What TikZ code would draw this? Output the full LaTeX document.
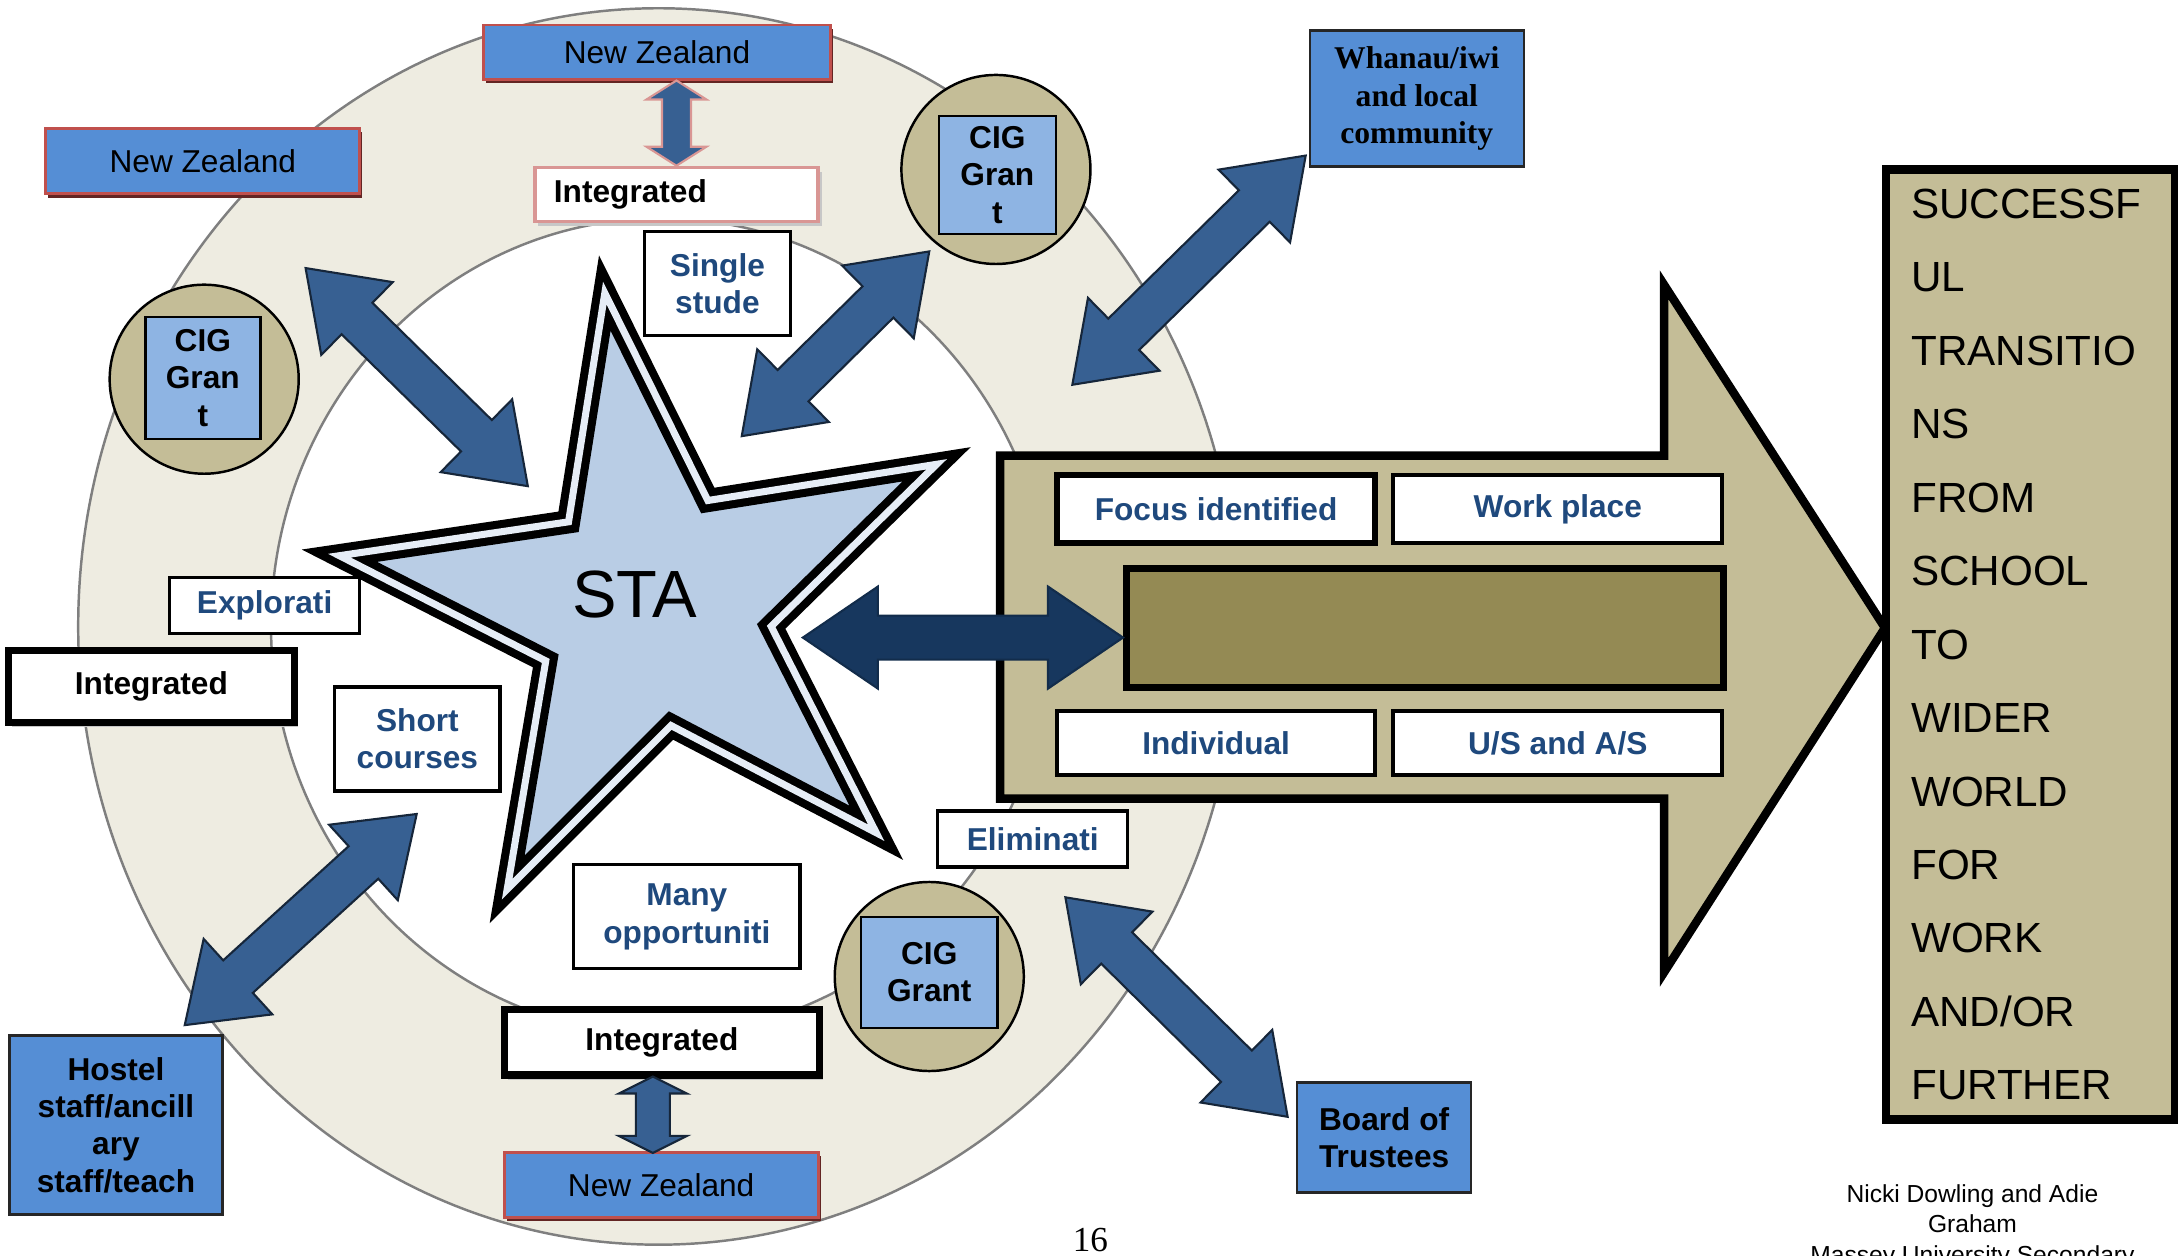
\documentclass[tikz,border=0pt]{standalone}
\usepackage{fontspec}
\setmainfont{Liberation Sans}
\newfontfamily\whanaufont{Liberation Serif}
\usetikzlibrary{calc,positioning,shapes.geometric,shadows}
\definecolor{ringfill}{HTML}{EEECE1}
\definecolor{ringline}{HTML}{7F7F7F}
\definecolor{cigtan}{HTML}{C4BD97}
\definecolor{coreolive}{HTML}{948A54}
\definecolor{nzblue}{HTML}{558ED5}
\definecolor{cigblue}{HTML}{8EB4E3}
\definecolor{starblue}{HTML}{B9CDE5}
\definecolor{arrowblue}{HTML}{376092}
\definecolor{navyarrow}{HTML}{17375E}
\definecolor{txtblue}{HTML}{1F497D}
\definecolor{nzred}{HTML}{C0504D}
\definecolor{nzshadow}{HTML}{632523}
\definecolor{pinkline}{HTML}{D99694}
\tikzset{
  ring line/.style={draw=ringline,line width=0.7pt},
  cig disc/.style={circle,draw,line width=0.7pt,fill=cigtan,minimum size=1.89cm,inner sep=0pt},
  cig box/.style={rectangle,draw,line width=0.7pt,fill=cigblue,align=center,inner sep=0pt,font=\bfseries\fontsize{9}{10.6}\selectfont},
  nz box/.style={rectangle,draw=nzred,line width=0.8pt,fill=nzblue,minimum width=3.14cm,minimum height=0.65cm,inner sep=0pt,font=\fontsize{9}{10.6}\selectfont,drop shadow={shadow xshift=0.7pt,shadow yshift=-1.1pt,fill=nzshadow,opacity=1}},
  int box/.style={rectangle,draw,line width=2pt,fill=white,inner sep=0pt,font=\bfseries\fontsize{9}{10.6}\selectfont,drop shadow={shadow xshift=1pt,shadow yshift=-1.4pt,fill=black!22,opacity=1}},
  idea box/.style={rectangle,draw,line width=0.9pt,fill=white,text=txtblue,align=center,inner sep=0pt,font=\bfseries\fontsize{9}{10.6}\selectfont},
  group box/.style={rectangle,draw=black!85,line width=0.7pt,fill=nzblue,align=center,inner sep=0pt,font=\bfseries\fontsize{9}{10.6}\selectfont},
  block arrow/.style={fill=arrowblue,draw=black!60!arrowblue,line width=0.6pt,line join=miter},
  sta star/.style={star,star points=5,star point ratio=2.65,minimum size=6.35cm,shape border rotate=8.7,inner sep=0pt,draw,line width=2.3pt,double=starblue!35!white,double distance=2pt,fill=starblue},
  pathway/.style={draw,line width=2.4pt,fill=cigtan,line join=miter},
  goal box/.style={rectangle,draw,line width=2.4pt,fill=cigtan,minimum width=2.89cm,minimum height=9.5cm,text width=2.39cm,inner xsep=0.25cm,align=left,font=\fontsize{12}{20.9}\selectfont},
}
% double block arrow between two named points: [style]{from}{to}{head length}{head half width}{shaft half width}
\newcommand{\dblblock}[6][]{%
  \coordinate (ha) at ($(#2)!#4!(#3)$);
  \coordinate (hb) at ($(#3)!#4!(#2)$);
  \draw[block arrow,#1] (#2) -- ($(ha)!#5!90:(#3)$) -- ($(ha)!#6!90:(#3)$)
    -- ($(hb)!#6!-90:(#2)$) -- ($(hb)!#5!-90:(#2)$) -- (#3)
    -- ($(hb)!#5!90:(#2)$) -- ($(hb)!#6!90:(#2)$)
    -- ($(ha)!#6!-90:(#3)$) -- ($(ha)!#5!-90:(#3)$) -- cycle;
}

\begin{document}
\begin{tikzpicture}[x=0.01389cm,y=-0.01389cm]
  \useasboundingbox (0,0) rectangle (1568,904);
  % ring round the star
  \fill[ringfill,even odd rule] (474,451) ellipse (5.8cm and 6.18cm) (476,451) ellipse (3.9cm and 4.08cm);
  \draw[ring line] (474,451) ellipse (5.8cm and 6.18cm);
  \draw[ring line] (476,451) ellipse (3.9cm and 4.08cm);

  % CIG grants
  \node[cig disc] (disc1) at (147,273) {};
  \node[cig disc] (disc2) at (717,122) {};
  \node[cig disc] (disc3) at (669,703) {};
  \node[cig box,minimum width=1.15cm,minimum height=1.22cm] (cig1) at (146,272) {CIG\\Gran\\t};
  \node[cig box,minimum width=1.17cm,minimum height=1.18cm] (cig2) at (718,126) {CIG\\Gran\\t};
  \node[cig box,minimum width=1.36cm,minimum height=1.11cm] (cig3) at (669,700) {CIG\\Grant};

  % New Zealand / Integrated
  \node[nz box,minimum width=3.47cm,minimum height=0.54cm] (nzTop) at (473,37.5) {New Zealand};
  \node[nz box] (nzLeft) at (146,116) {New Zealand};
  \node[nz box] (nzBot) at (476,853) {New Zealand};
  \node[int box,draw=pinkline,line width=1pt,minimum height=0.54cm,text width=2.45cm,inner xsep=0.19cm,align=left] (intTop) at (487,140) {Integrated};
  \node[int box,minimum width=2.86cm,minimum height=0.72cm] (intLeft) at (109,494) {Integrated};
  \node[int box,minimum width=3.15cm,minimum height=0.65cm] (intBot) at (476.5,750.5) {Integrated};
  \dblblock[draw=pinkline]{intTop.north}{intTop.north |- nzTop.south}{0.19cm}{0.3cm}{0.145cm}
  \coordinate (botA) at (470,775);
  \coordinate (botB) at (470,830);
  \dblblock{botA}{botB}{0.17cm}{0.34cm}{0.17cm}

  % ideas round the star
  \node[idea box,minimum width=1.46cm,minimum height=1.04cm] (single) at (516.5,204) {Single\\stude};
  \node[idea box,minimum width=1.9cm,minimum height=0.56cm] (explor) at (190.5,436) {Explorati};
  \node[idea box,minimum width=1.65cm,minimum height=1.04cm] (short) at (300.5,532) {Short\\courses};
  \node[idea box,minimum width=2.26cm,minimum height=1.04cm] (many) at (494.5,660) {Many\\opportuniti};
  \node[idea box,minimum width=1.9cm,minimum height=0.56cm] (elim) at (743.5,604) {Eliminati};

  % outside groups
  \node[group box,minimum width=2.14cm,minimum height=1.36cm,font=\whanaufont\bfseries\fontsize{9}{10.6}\selectfont] (whanau) at (1020,71) {Whanau/iwi\\and local\\community};
  \node[group box,minimum width=2.13cm,minimum height=1.79cm] (hostel) at (83.5,810) {Hostel\\staff/ancill\\ary\\staff/teach};
  \node[group box,minimum width=1.74cm,minimum height=1.1cm] (board) at (996.5,819) {Board of\\Trustees};

  % links
  \coordinate (ulA) at (220,193);
  \coordinate (ulB) at (380,350);
  \coordinate (umA) at (534,314);
  \coordinate (umB) at (669,181);
  \coordinate (urA) at (772,277);
  \coordinate (urB) at (940,112);
  \coordinate (llA) at (300,586);
  \coordinate (llB) at (133,738);
  \coordinate (lrA) at (767,646);
  \coordinate (lrB) at (927,804);
  \dblblock{ulA}{ulB}{0.72cm}{0.51cm}{0.22cm}
  \dblblock{umA}{umB}{0.72cm}{0.51cm}{0.22cm}
  \dblblock{urA}{urB}{0.72cm}{0.51cm}{0.22cm}
  \dblblock{llA}{llB}{0.72cm}{0.51cm}{0.22cm}
  \dblblock{lrA}{lrB}{0.72cm}{0.51cm}{0.22cm}

  \node[sta star] (sta) at (470,437) {};
  \node[inner sep=0pt,font=\fontsize{19}{22}\selectfont] (staText) at (457,428) {STA};

  % pathway arrow
  \draw[pathway] (720,328) -- (1198,328) -- (1198,205) -- (1357,452) -- (1198,700) -- (1198,575) -- (720,575) -- cycle;
  \node[rectangle,draw,line width=2pt,fill=coreolive,minimum width=5.97cm,minimum height=1.19cm] (core) at (1026,452) {};
  \node[idea box,line width=1.6pt,minimum width=3.18cm,minimum height=0.68cm] (focus) at (875.5,366.5) {Focus identified};
  \node[idea box,line width=1.1pt,minimum width=3.29cm,minimum height=0.68cm] (work) at (1121.5,366.5) {Work place};
  \node[idea box,line width=1.1pt,minimum width=3.18cm,minimum height=0.64cm] (indiv) at (875.5,535) {Individual};
  \node[idea box,line width=1.1pt,minimum width=3.29cm,minimum height=0.64cm] (usas) at (1121.5,535) {U/S and A/S};
  \coordinate (navyTip) at (578,459);
  \coordinate (navyEnd) at (core.west |- navyTip);
  \dblblock[fill=navyarrow,draw=navyarrow!80!black]{navyTip}{navyEnd}{0.75cm}{0.51cm}{0.22cm}

  \node[goal box] (goal) at (1462,464) {SUCCESSF\\UL\\TRANSITIO\\NS\\FROM\\SCHOOL\\TO\\WIDER\\WORLD\\FOR\\WORK\\AND/OR\\FURTHER};

  \node[align=center,inner sep=0pt,anchor=north,font=\fontsize{7}{8.7}\selectfont] (credit) at (1420,852) {Nicki Dowling and Adie\\Graham\\Massey University Secondary};
  \node[inner sep=0pt,font=\whanaufont\fontsize{10}{12}\selectfont] (page) at (785,893) {16};
\end{tikzpicture}
\end{document}
